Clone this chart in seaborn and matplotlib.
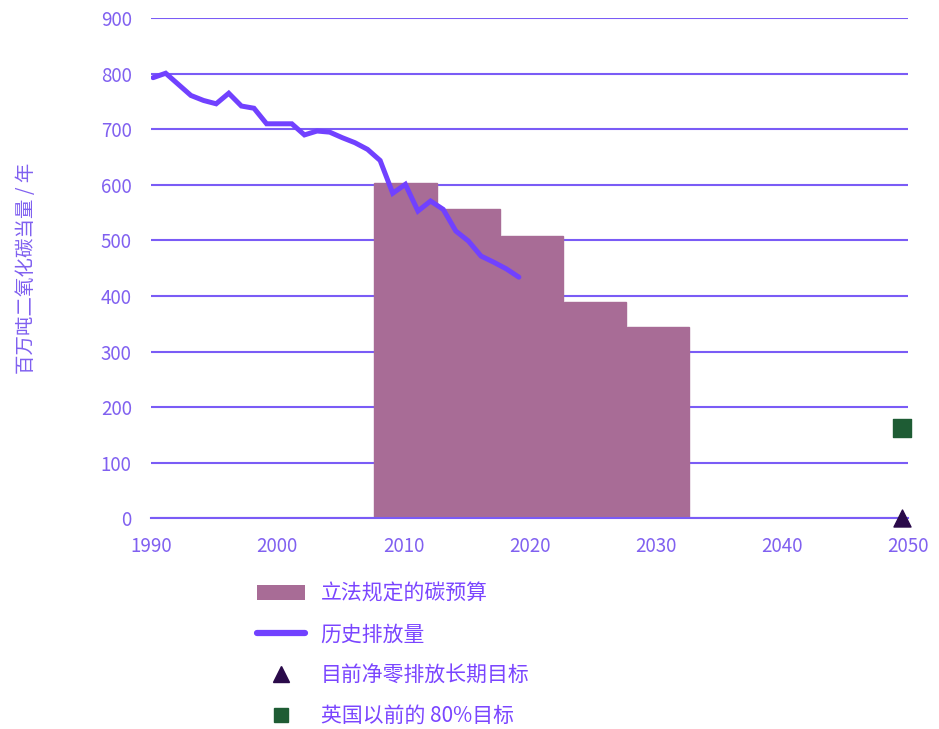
import matplotlib
matplotlib.use("Agg")
import matplotlib.pyplot as plt
import seaborn as sns
import numpy as np
import pandas as pd
from matplotlib.patches import Patch
from matplotlib.lines import Line2D

sns.set_theme(style="white")
plt.rcParams['font.family'] = ['Noto Sans CJK SC', 'DejaVu Sans']

# historical emissions (MtCO2e / yr)
hist_years = list(range(1990, 2020))
hist_values = [793, 801, 781, 761, 752, 746, 765, 742, 738, 710,
               710, 710, 690, 697, 695, 685, 676, 664, 644, 585,
               601, 553, 571, 556, 517, 499, 472, 461, 449, 434]

# legislated carbon budgets (annual average per 5-year period)
budget_start = [2008, 2013, 2018, 2023, 2028]
budget_values = [603.6, 556.4, 508.8, 390, 345]

net_zero_year, net_zero_value = [2050], [0]
old_target_year, old_target_value = [2050], [162]

labels = ["立法规定的碳预算", "历史排放量", "目前净零排放长期目标", "英国以前的 80%目标"]

grid_c = "#7a5cf6"
line_c = "#7141ff"
bar_c = "#a86c96"
tri_c = "#2a0a4a"
sq_c = "#1e5c34"
tick_c = "#8060f0"
text_c = "#7a45ff"

fig = plt.figure(figsize=(9.39, 7.29), dpi=100)
ax = fig.add_axes([0.161, 0.289, 0.806, 0.686])

ax.set_axisbelow(True)
ax.bar([s - 0.3 for s in budget_start], budget_values, width=4.95, align="edge",
       color=bar_c, edgecolor=bar_c, linewidth=1.0, zorder=2)

df = pd.DataFrame({"year": [y + 0.15 for y in hist_years], "value": hist_values})
sns.lineplot(data=df, x="year", y="value", ax=ax, color=line_c, linewidth=3.6,
             solid_joinstyle="miter", zorder=3)

ax.scatter([y - 0.5 for y in old_target_year], old_target_value, marker="s", s=150,
           color=sq_c, zorder=4, clip_on=False)
ax.scatter([y - 0.5 for y in net_zero_year], net_zero_value, marker="^", s=150,
           color=tri_c, zorder=5, clip_on=False)

ax.set_xlim(1990, 2050)
ax.set_ylim(0, 900)
ax.set_xticks(range(1990, 2051, 10))
ax.set_yticks(range(0, 901, 100))
ax.yaxis.grid(True, color=grid_c, linewidth=1.5)
ax.xaxis.grid(False)
for s in ["top", "right", "left"]:
    ax.spines[s].set_visible(False)
ax.spines["bottom"].set_color(grid_c)
ax.spines["bottom"].set_linewidth(1.5)
ax.tick_params(axis="x", direction="out", length=6, width=1.5, color=grid_c,
               labelcolor=tick_c, labelsize=13.5, pad=7)
ax.tick_params(axis="y", length=0, labelcolor=tick_c, labelsize=13.5, pad=14)
ax.set_xlabel("")
ax.set_ylabel("百万吨二氧化碳当量 / 年", color=tick_c, fontsize=14, labelpad=46)

handles = [
    Patch(facecolor=bar_c, edgecolor="none"),
    Line2D([0], [0], color=line_c, linewidth=4.5),
    Line2D([0], [0], marker="^", color="none", markerfacecolor=tri_c,
           markeredgecolor=tri_c, markersize=11),
    Line2D([0], [0], marker="s", color="none", markerfacecolor=sq_c,
           markeredgecolor=sq_c, markersize=10),
]
leg = fig.legend(handles, labels, loc="upper left", bbox_to_anchor=(0.265, 0.212),
                 frameon=False, fontsize=15, handlelength=2.3, handleheight=0.7,
                 handletextpad=0.75, labelspacing=0.9, borderaxespad=0)
for t in leg.get_texts():
    t.set_color(text_c)

fig.savefig("out.png", dpi=100)
